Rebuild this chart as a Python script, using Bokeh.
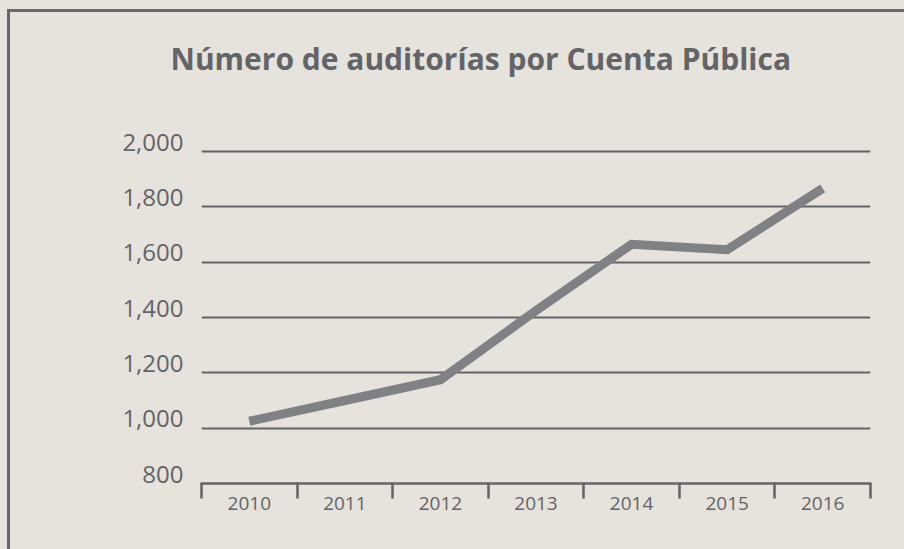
from bokeh.plotting import figure
from bokeh.models import Range1d, FixedTicker, NumeralTickFormatter, LinearAxis, Title
from bokeh.embed import file_html
from bokeh.resources import INLINE

# --- data ---
years = [2010, 2011, 2012, 2013, 2014, 2015, 2016]
auditorias = [1025, 1100, 1175, 1425, 1665, 1645, 1867]
y_ticks = [800, 1000, 1200, 1400, 1600, 1800, 2000]
title_text = "Número de auditorías por Cuenta Pública"

BG = "#e6e2dc"
TXT = "#636467"
GRID = "#636467"
LINE = "#808184"
FRAME = "#67686b"

Y0, Y1 = 800, 2040
LABEL_SHIFT = 34  # y-units (~9 px) that the y tick labels sit above their grid lines

p = figure(
    width=904, height=549,
    output_backend="svg", toolbar_location=None,
    x_range=Range1d(years[0] - 0.5, years[-1] + 0.5),
    y_range=Range1d(Y0, Y1),
    min_border_left=201, min_border_right=34,
    min_border_top=140, min_border_bottom=66,
    background_fill_color=BG, border_fill_color=None,
)
p.outline_line_color = None
# page background with the panel's left/top frame line (under the transparent canvas border)
p.styles = {
    "background": (f"linear-gradient({FRAME}, {FRAME}) 7px 9px / 3px 100% no-repeat, "
                   f"linear-gradient({FRAME}, {FRAME}) 7px 9px / 100% 3px no-repeat, "
                   f"{BG}"),
}

# gap between title and plot area (stacked next to the frame), then the title
p.add_layout(Title(text=" ", text_font_size="1px", standoff=54), "above")
p.add_layout(Title(text=title_text, text_font="Open Sans", text_font_style="bold",
                   text_font_size="30px", text_color=TXT, align="left",
                   offset=-31, standoff=10), "above")

p.line(years, auditorias, line_color=LINE, line_width=9,
       line_join="miter", line_cap="butt")

# x axis
xa = p.xaxis[0]
xa.ticker = FixedTicker(ticks=years,
                        minor_ticks=[y - 0.5 for y in years] + [years[-1] + 0.5])
xa.major_tick_out = 0
xa.major_tick_in = 0
xa.minor_tick_out = 15
xa.minor_tick_in = 1
xa.minor_tick_line_color = GRID
xa.minor_tick_line_width = 2.5
xa.axis_line_color = GRID
xa.axis_line_width = 2.5
xa.major_label_text_font = "Open Sans"
xa.major_label_text_font_size = "19px"
xa.major_label_text_color = TXT
xa.major_label_standoff = -2
p.xgrid.grid_line_color = None

# y axis: labels drawn on a slightly shifted range so they sit above the grid lines
p.yaxis.visible = False
p.extra_y_ranges = {"labels": Range1d(Y0 - LABEL_SHIFT, Y1 - LABEL_SHIFT)}
ya = LinearAxis(y_range_name="labels")
ya.ticker = FixedTicker(ticks=y_ticks)
ya.formatter = NumeralTickFormatter(format="0,0")
ya.axis_line_color = None
ya.major_tick_line_color = None
ya.minor_tick_line_color = None
ya.major_tick_out = 0
ya.major_tick_in = 0
ya.minor_tick_out = 0
ya.minor_tick_in = 0
ya.major_label_text_font = "Open Sans"
ya.major_label_text_font_size = "24px"
ya.major_label_text_color = TXT
ya.major_label_standoff = 18
p.add_layout(ya, "left")

p.ygrid.grid_line_color = GRID
p.ygrid.grid_line_width = 2.2
p.ygrid.ticker = FixedTicker(ticks=y_ticks[1:])

open("out.html", "w").write(file_html(p, INLINE))
